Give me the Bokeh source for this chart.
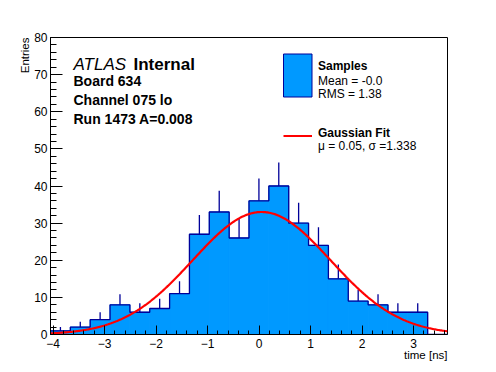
import numpy as np
from bokeh.plotting import figure
from bokeh.models import Range1d, SingleIntervalTicker, Label, Title
from bokeh.embed import file_html
from bokeh.resources import INLINE

# ---- data ----
bin_lo = -4.05
bin_hi = 3.66
n_bins = 20
counts = [1, 2, 4, 8, 6, 7, 11, 27, 33, 26, 36, 40, 30, 24, 15, 9, 8, 6, 6, 0]
fit_amp = 33.0
fit_mu = 0.05
fit_sigma = 1.338
x_ticks_interval = 1
y_ticks_interval = 10

x_title = "time [ns]"
y_title = "Entries"
header_lines = ["Board 634", "Channel 075 lo", "Run 1473 A=0.008"]
legend_hist_lines = ["Mean = -0.0", "RMS = 1.38"]
legend_fit_line = "\u03bc = 0.05, \u03c3 =1.338"

FILL = "#0099ff"
EDGE = "#000099"

OFF = 0  # observed page offset
W, H = 488, 370
FX0, FX1, FY0, FY1 = 50, 447, 37, 334  # frame in page pixels
ML, MR, MT, MB = FX0 - OFF, OFF + W - FX1, FY0 - OFF, OFF + H - FY1
XMIN, XMAX = bin_lo, bin_hi
YMIN, YMAX = 0, 80

p = figure(width=W, height=H, output_backend="svg", toolbar_location=None,
           x_range=Range1d(XMIN, XMAX), y_range=Range1d(YMIN, YMAX),
           min_border_left=ML, min_border_right=MR, min_border_top=MT, min_border_bottom=MB)
p.grid.visible = False
p.outline_line_color = "black"
p.outline_line_width = 1
p.background_fill_color = "white"
p.border_fill_color = "white"

def px2x(px):
    return XMIN + (px - FX0) / (FX1 - FX0) * (XMAX - XMIN)
def py2y(py):
    return YMIN + (FY1 - py) / (FY1 - FY0) * (YMAX - YMIN)

edges = np.linspace(bin_lo, bin_hi, n_bins + 1)
c = np.array(counts, dtype=float)
centers = 0.5 * (edges[:-1] + edges[1:])

# histogram fill
p.quad(left=edges[:-1], right=edges[1:], bottom=0, top=c,
       fill_color=FILL, line_color=FILL, line_width=1)

# step outline
sx = [edges[0]]
sy = [0.0]
for i in range(n_bins):
    sx += [edges[i], edges[i + 1]]
    sy += [c[i], c[i]]
sx.append(edges[-1]); sy.append(0.0)
p.line(sx, sy, line_color=EDGE, line_width=1.3)

# error bars (upper part)
m = c > 0
p.segment(x0=centers[m], y0=c[m], x1=centers[m], y1=c[m] + np.sqrt(c[m]),
          line_color=EDGE, line_width=1.3)

# gaussian fit
xf = np.linspace(XMIN, XMAX, 400)
yf = fit_amp * np.exp(-0.5 * ((xf - fit_mu) / fit_sigma) ** 2)
p.line(xf, yf, line_color="red", line_width=2.2)

# axes styling
FONT = "Liberation Sans"
for ax in (p.xaxis[0], p.yaxis[0]):
    ax.axis_line_color = "black"
    ax.major_tick_line_color = "black"
    ax.minor_tick_line_color = "black"
    ax.major_tick_out = 0
    ax.minor_tick_out = 0
    ax.major_label_text_font = FONT
    ax.major_label_text_font_size = "12px"
    ax.major_label_text_color = "black"
    ax.axis_label = None

# axis titles as side titles aligned to the frame ends
p.add_layout(Title(text=x_title, align="right", text_font=FONT, text_font_size="11.5px",
                   text_font_style="normal", text_color="black", standoff=-7), "below")
p.add_layout(Title(text=y_title, align="right", text_font=FONT, text_font_size="11.5px",
                   text_font_style="normal", text_color="black", standoff=2), "left")

p.xaxis.ticker = SingleIntervalTicker(interval=x_ticks_interval, num_minor_ticks=5)
p.yaxis.ticker = SingleIntervalTicker(interval=y_ticks_interval, num_minor_ticks=5)
p.xaxis.major_tick_in = 9
p.xaxis.minor_tick_in = 4
p.yaxis.major_tick_in = 12
p.yaxis.minor_tick_in = 6
p.xaxis.major_label_standoff = 4
p.yaxis.major_label_standoff = 3

def add_text(px, py, text, size, style="normal", align="left", angle=0.0, baseline="alphabetic"):
    p.add_layout(Label(x=px2x(px), y=py2y(py), text=text, text_font=FONT,
                       text_font_size=size, text_font_style=style, text_align=align,
                       text_baseline=baseline, angle=angle, text_color="black"))

# header
add_text(73, 63.5, "ATLAS", "17px", style="italic")
add_text(133, 63.5, "Internal", "17px", style="bold")
for i, t in enumerate(header_lines):
    add_text(73, 80 + i * 19.2, t, "14px", style="bold")

# legend
p.quad(left=[px2x(283)], right=[px2x(311.5)], top=[py2y(53.5)], bottom=[py2y(96.5)],
       fill_color=FILL, line_color=EDGE, line_width=1)
p.line([px2x(283), px2x(311.5)], [py2y(135.5), py2y(135.5)], line_color="red", line_width=2.2)
add_text(317.5, 65, "Samples", "12px", style="bold")
for i, t in enumerate(legend_hist_lines):
    add_text(317.5, 80 + i * 13.3, t, "12px")
add_text(317.5, 132.7, "Gaussian Fit", "12px", style="bold")
add_text(317.5, 145, legend_fit_line, "12px")

open("out.html", "w").write(file_html(p, INLINE))
